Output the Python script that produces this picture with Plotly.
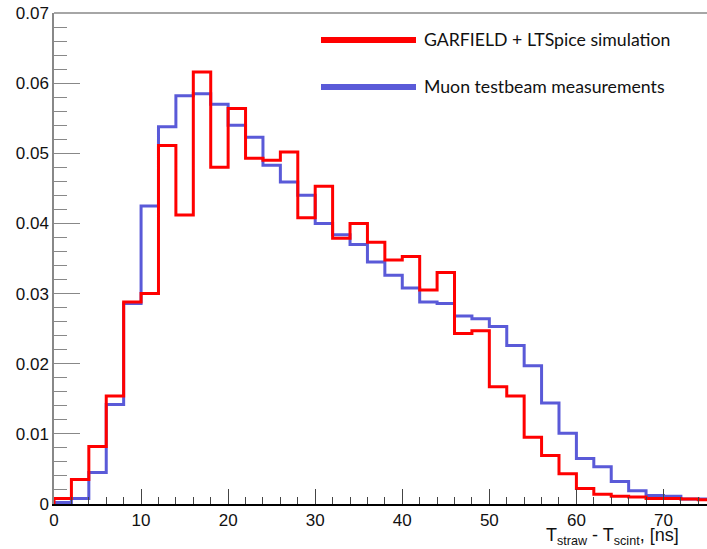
import plotly.graph_objects as go

# Bin lower edges (ns), 2 ns bins
bin_edges = list(range(0, 78, 2))  # 0..76

sim_values = [0.0008, 0.0035, 0.0082, 0.0154, 0.0288, 0.0300, 0.0511, 0.0412,
              0.0616, 0.0480, 0.0564, 0.0493, 0.0490, 0.0502, 0.0408, 0.0453,
              0.0379, 0.0400, 0.0373, 0.0348, 0.0353, 0.0305, 0.0330, 0.0243,
              0.0247, 0.0167, 0.0154, 0.0095, 0.0069, 0.0043, 0.0022, 0.0014,
              0.0011, 0.0010, 0.0008, 0.0008, 0.0007, 0.0006]

meas_values = [0.0002, 0.0008, 0.0045, 0.0142, 0.0286, 0.0425, 0.0538, 0.0582,
               0.0585, 0.0570, 0.0540, 0.0523, 0.0483, 0.0459, 0.0440, 0.0400,
               0.0384, 0.0370, 0.0345, 0.0326, 0.0308, 0.0288, 0.0286, 0.0268,
               0.0264, 0.0253, 0.0226, 0.0197, 0.0144, 0.0101, 0.0065, 0.0053,
               0.0032, 0.0019, 0.0012, 0.0011, 0.0007, 0.0007]

y_tickvals = [0, 0.01, 0.02, 0.03, 0.04, 0.05, 0.06, 0.07]
y_ticktext = ["0", "0.01", "0.02", "0.03", "0.04", "0.05", "0.06", "0.07"]

sim_label = "GARFIELD + LTSpice simulation"
meas_label = "Muon testbeam measurements"

RED = "#ff0000"
BLUE = "#5a5ad8"


def step_xy(values):
    xs = [bin_edges[0]] + bin_edges[:len(values)] + [bin_edges[len(values)]]
    ys = [0] + list(values) + [values[-1]]
    return xs, ys


fig = go.Figure()
xb, yb = step_xy(meas_values)
fig.add_trace(go.Scatter(x=xb, y=yb, mode="lines", line=dict(color=BLUE, width=3, shape="hv"),
                         name=meas_label, showlegend=False))
xr, yr = step_xy(sim_values)
fig.add_trace(go.Scatter(x=xr, y=yr, mode="lines", line=dict(color=RED, width=3, shape="hv"),
                         name=sim_label, showlegend=False))

W, H = 707, 549
ml, mr, mt, mb = 54, 0, 13, 45
pw, ph = W - ml - mr, H - mt - mb


def px_x(p):
    return (p - ml) / pw


def px_y(p):
    return (H - mb - p) / ph


tick_font = dict(family="Arial", size=17, color="#111")

fig.update_layout(
    width=W, height=H,
    margin=dict(l=ml, r=mr, t=mt, b=mb),
    paper_bgcolor="white", plot_bgcolor="white",
    xaxis=dict(range=[0, 75], showgrid=False, zeroline=False,
               showline=True, linecolor="#000", linewidth=1.5,
               ticks="inside", ticklen=15, tickwidth=1, tickcolor="#444",
               dtick=10, tick0=0, tickfont=tick_font,
               minor=dict(ticks="inside", ticklen=7, dtick=2, tickcolor="#444", tickwidth=1)),
    yaxis=dict(range=[0, 0.07], showgrid=False, zeroline=False,
               showline=True, linecolor="#888", linewidth=1.5,
               ticks="inside", ticklen=26, tickwidth=1, tickcolor="#888",
               tickfont=tick_font, tickvals=y_tickvals, ticktext=y_ticktext,
               minor=dict(ticks="inside", ticklen=13, dtick=0.002, tickcolor="#888", tickwidth=1)),
    showlegend=False,
)

# top frame line
fig.add_shape(type="line", xref="paper", yref="paper", x0=0, x1=1, y0=1, y1=1,
              line=dict(color="#888", width=1.5))

# legend
leg_font = dict(family="Lato", size=17.7, color="#111")
for label, color, ypix in [(sim_label, RED, 40), (meas_label, BLUE, 87)]:
    fig.add_shape(type="line", xref="paper", yref="paper",
                  x0=px_x(321), x1=px_x(416), y0=px_y(ypix), y1=px_y(ypix),
                  line=dict(color=color, width=6))
    fig.add_annotation(xref="paper", yref="paper", x=px_x(422), y=px_y(ypix),
                       xanchor="left", yanchor="middle", text=label, showarrow=False,
                       font=leg_font)

# axis title
fig.add_annotation(xref="paper", yref="paper", x=px_x(681), y=px_y(550),
                   xanchor="right", yanchor="bottom",
                   text="T<sub>straw</sub> - T<sub>scint</sub>, [ns]", showarrow=False,
                   font=dict(family="Arial", size=18, color="#111"))

fig.write_html("out.html")
